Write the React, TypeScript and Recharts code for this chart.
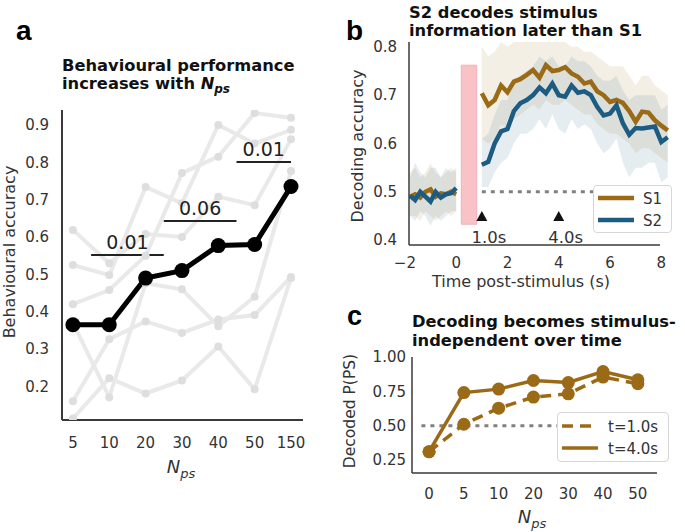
import React from 'react';
import {
  LineChart,
  ComposedChart,
  Line,
  Area,
  XAxis,
  YAxis,
  ReferenceLine,
  ReferenceArea,
  ReferenceDot,
} from 'recharts';

// ---- panel a: behavioural accuracy per N_ps
const npsA = ['5', '10', '20', '30', '40', '50', '150'];
const meanAcc = [0.365, 0.365, 0.49, 0.51, 0.577, 0.58, 0.735];
const subj1 = [0.37, 0.171, 0.476, 0.46, 0.361, 0.44, 0.777];
const subj2 = [0.16, 0.326, 0.374, 0.343, 0.379, 0.391, 0.493];
const subj3 = [0.114, 0.222, 0.181, 0.216, 0.307, 0.192, 0.49];
const subj4 = [0.619, 0.53, 0.608, 0.6, 0.708, 0.685, 0.862];
const subj5 = [0.525, 0.498, 0.734, 0.69, 0.9, 0.85, 0.887];
const subj6 = [0.42, 0.458, 0.55, 0.771, 0.815, 0.932, 0.919];
const sigP = ['0.01', '0.06', '0.01'];
const sigFrom = [0.5, 2.5, 4.5];
const sigTo = [2.5, 4.5, 6];
const sigAt = [0.552, 0.643, 0.801];

// ---- panel b: decoding accuracy over time
const timePre = [-1.8, -1.6, -1.4, -1.2, -1.0, -0.8, -0.6, -0.4, -0.2, 0];
const s1Pre = [0.49, 0.495, 0.488, 0.5, 0.505, 0.49, 0.497, 0.495, 0.5, 0.495];
const s2Pre = [0.492, 0.483, 0.5, 0.49, 0.48, 0.5, 0.488, 0.495, 0.497, 0.508];
const s1PreLo = [0.45, 0.45, 0.44, 0.46, 0.45, 0.44, 0.45, 0.46, 0.45, 0.46];
const s1PreHi = [0.54, 0.55, 0.53, 0.54, 0.56, 0.54, 0.53, 0.54, 0.55, 0.54];
const s2PreLo = [0.45, 0.44, 0.46, 0.45, 0.43, 0.45, 0.44, 0.45, 0.46, 0.46];
const s2PreHi = [0.53, 0.56, 0.54, 0.53, 0.55, 0.55, 0.53, 0.55, 0.54, 0.55];

const timePost = [1, 1.25, 1.5, 1.75, 2, 2.25, 2.5, 2.75, 3, 3.25, 3.5, 3.75, 4, 4.25, 4.5,
  4.75, 5, 5.25, 5.5, 5.75, 6, 6.25, 6.5, 6.75, 7, 7.25, 7.5, 7.75, 8, 8.25];
const s1Post = [0.704, 0.679, 0.69, 0.72, 0.706, 0.728, 0.733, 0.742, 0.752, 0.736, 0.762, 0.75,
  0.752, 0.758, 0.745, 0.738, 0.724, 0.728, 0.708, 0.7, 0.686, 0.69, 0.684, 0.667, 0.645, 0.666,
  0.664, 0.648, 0.637, 0.627];
const s2Post = [0.556, 0.562, 0.6, 0.625, 0.63, 0.667, 0.683, 0.69, 0.7, 0.716, 0.704, 0.724,
  0.7, 0.697, 0.72, 0.705, 0.708, 0.7, 0.676, 0.658, 0.662, 0.679, 0.642, 0.618, 0.632, 0.631,
  0.633, 0.635, 0.603, 0.613];
const s1PostLo = [0.61, 0.6, 0.61, 0.64, 0.63, 0.65, 0.66, 0.67, 0.68, 0.67, 0.69, 0.68, 0.68,
  0.69, 0.68, 0.67, 0.66, 0.66, 0.64, 0.63, 0.62, 0.62, 0.61, 0.6, 0.58, 0.59, 0.59, 0.58, 0.57, 0.56];
const s1PostHi = [0.8, 0.78, 0.79, 0.81, 0.8, 0.81, 0.81, 0.81, 0.81, 0.81, 0.81, 0.81, 0.81,
  0.81, 0.8, 0.8, 0.79, 0.79, 0.78, 0.77, 0.76, 0.76, 0.76, 0.74, 0.72, 0.74, 0.74, 0.72, 0.71, 0.7];
const s2PostLo = [0.51, 0.51, 0.54, 0.56, 0.57, 0.6, 0.62, 0.62, 0.63, 0.65, 0.63, 0.66, 0.63,
  0.62, 0.65, 0.63, 0.64, 0.63, 0.6, 0.58, 0.59, 0.61, 0.56, 0.53, 0.55, 0.55, 0.56, 0.56, 0.52, 0.53];
const s2PostHi = [0.61, 0.62, 0.66, 0.69, 0.69, 0.73, 0.74, 0.75, 0.76, 0.78, 0.77, 0.78, 0.76,
  0.76, 0.78, 0.77, 0.77, 0.76, 0.74, 0.73, 0.73, 0.74, 0.71, 0.69, 0.7, 0.7, 0.7, 0.7, 0.67, 0.68];
const cueTimes = [1.0, 4.0];
const cueLabels = ['1.0s', '4.0s'];

// ---- panel c: decoded P(PS)
const npsC = ['0', '5', '10', '20', '30', '40', '50'];
const pEarly = [0.31, 0.51, 0.627, 0.708, 0.732, 0.854, 0.805];
const pLate = [0.31, 0.741, 0.766, 0.829, 0.814, 0.894, 0.834];

const FONT = '"DejaVu Sans", Verdana, sans-serif';
const LETTER_FONT = '"Liberation Sans", Arial, sans-serif';
const AX = '#3a3a3a';
const S1 = '#9a6a16';
const S2 = '#1c5c82';
const tickStyle = { fontSize: 15, fill: '#333', fontFamily: FONT };

const rowsA = npsA.map((_, i) => ({
  i,
  mean: meanAcc[i],
  g1: subj1[i],
  g2: subj2[i],
  g3: subj3[i],
  g4: subj4[i],
  g5: subj5[i],
  g6: subj6[i],
}));
const grayKeys = ['g1', 'g2', 'g3', 'g4', 'g5', 'g6'];

const rowsB = [
  ...timePre.map((t, i) => ({
    t,
    s1: s1Pre[i],
    s2: s2Pre[i],
    b1: [s1PreLo[i], s1PreHi[i]],
    b2: [s2PreLo[i], s2PreHi[i]],
  })),
  { t: 0.5, s1: null, s2: null, b1: null, b2: null },
  ...timePost.map((t, i) => ({
    t,
    s1: s1Post[i],
    s2: s2Post[i],
    b1: [s1PostLo[i], s1PostHi[i]],
    b2: [s2PostLo[i], s2PostHi[i]],
  })),
];

const rowsC = npsC.map((_, i) => ({ i, early: pEarly[i], late: pLate[i] }));

const Cue = (props: any) => {
  const { cx, cy, label } = props;
  return (
    <g>
      <polygon points={`${cx - 5.5},${cy + 5} ${cx + 5.5},${cy + 5} ${cx},${cy - 5}`} fill="#111" />
      <text x={cx + 7} y={cy + 27} textAnchor="middle" fontSize={16.5} fill="#333" fontFamily={FONT}>
        {label}
      </text>
    </g>
  );
};

function PanelA() {
  return (
    <div style={{ position: 'absolute', left: 0, top: 0 }}>
      <LineChart width={330} height={480} data={rowsA} margin={{ top: 110, right: 27, bottom: 30, left: 22 }}>
        <XAxis
          type="number"
          dataKey="i"
          domain={[-0.3, 6.33]}
          ticks={[0, 1, 2, 3, 4, 5, 6]}
          tickFormatter={(v) => npsA[v]}
          allowDataOverflow
          interval={0}
          height={30}
          axisLine={{ stroke: AX, strokeWidth: 2 }}
          tickLine={false}
          tickSize={0}
          tickMargin={17}
          tick={tickStyle}
        />
        <YAxis
          type="number"
          domain={[0.11, 0.94]}
          ticks={[0.2, 0.3, 0.4, 0.5, 0.6, 0.7, 0.8, 0.9]}
          tickFormatter={(v) => v.toFixed(1)}
          allowDataOverflow
          interval={0}
          width={40}
          axisLine={{ stroke: AX, strokeWidth: 2 }}
          tickLine={false}
          tickSize={0}
          tickMargin={13}
          tick={tickStyle}
        />
        {grayKeys.map((k) => (
          <Line
            key={k}
            dataKey={k}
            stroke="#e9e9e9"
            strokeWidth={4}
            dot={{ r: 4, fill: '#dedede', stroke: 'none' }}
            isAnimationActive={false}
          />
        ))}
        {sigP.map((p, j) => (
          <ReferenceLine
            key={j}
            segment={[
              { x: sigFrom[j], y: sigAt[j] },
              { x: sigTo[j], y: sigAt[j] },
            ]}
            stroke="#222"
            strokeWidth={2}
            label={{ value: p, position: 'top', offset: 6, fontSize: 19, fill: '#222', fontFamily: FONT }}
          />
        ))}
        <Line
          dataKey="mean"
          stroke="#000"
          strokeWidth={5}
          dot={{ r: 7.5, fill: '#000', stroke: 'none' }}
          isAnimationActive={false}
        />
      </LineChart>
    </div>
  );
}

function PanelB() {
  return (
    <div style={{ position: 'absolute', left: 330, top: 0 }}>
      <ComposedChart width={355} height={300} data={rowsB} margin={{ top: 42, right: 16, bottom: 25, left: 34 }}>
        <XAxis
          type="number"
          dataKey="t"
          domain={[-1.84, 8.3]}
          ticks={[-2, 0, 2, 4, 6, 8]}
          tickFormatter={(v) => (v < 0 ? '\u2212' + Math.abs(v) : String(v))}
          allowDataOverflow
          interval={0}
          height={30}
          axisLine={false}
          tickLine={false}
          tickSize={0}
          tickMargin={12}
          tick={tickStyle}
        />
        <YAxis
          type="number"
          domain={[0.39, 0.81]}
          ticks={[0.4, 0.5, 0.6, 0.7, 0.8]}
          tickFormatter={(v) => v.toFixed(1)}
          allowDataOverflow
          interval={0}
          width={45}
          axisLine={{ stroke: AX, strokeWidth: 1.5 }}
          tickLine={false}
          tickSize={0}
          tickMargin={12}
          tick={tickStyle}
        />
        <ReferenceLine
          segment={[
            { x: -1.84, y: 0.39 },
            { x: 7.95, y: 0.39 },
          ]}
          stroke={AX}
          strokeWidth={1.5}
          ifOverflow="visible"
        />
        <Area dataKey="b1" stroke="none" fill={S1} fillOpacity={0.11} isAnimationActive={false} />
        <Area dataKey="b2" stroke="none" fill={S2} fillOpacity={0.11} isAnimationActive={false} />
        <ReferenceArea x1={0.2} x2={0.8} y1={0.433} y2={0.762} fill="#f8c2c6" fillOpacity={1} stroke="#efb0b6" />
        <ReferenceLine
          segment={[
            { x: 1.0, y: 0.5 },
            { x: 8.3, y: 0.5 },
          ]}
          stroke="#808080"
          strokeWidth={3}
          strokeDasharray="4 5"
        />
        <Line dataKey="s1" stroke={S1} strokeWidth={4.5} dot={false} isAnimationActive={false} />
        <Line dataKey="s2" stroke={S2} strokeWidth={4.5} dot={false} isAnimationActive={false} />
        {cueTimes.map((t, j) => (
          <ReferenceDot key={j} x={t} y={0.45} r={0} shape={(p: any) => <Cue {...p} label={cueLabels[j]} />} />
        ))}
      </ComposedChart>
    </div>
  );
}

function PanelC() {
  return (
    <div style={{ position: 'absolute', left: 330, top: 300 }}>
      <LineChart width={355} height={232} data={rowsC} margin={{ top: 57, right: 28, bottom: 29, left: 37 }}>
        <XAxis
          type="number"
          dataKey="i"
          domain={[-0.49, 6.55]}
          ticks={[0, 1, 2, 3, 4, 5, 6]}
          tickFormatter={(v) => npsC[v]}
          allowDataOverflow
          interval={0}
          height={30}
          axisLine={{ stroke: AX, strokeWidth: 1.5 }}
          tickLine={false}
          tickSize={0}
          tickMargin={15}
          tick={tickStyle}
        />
        <YAxis
          type="number"
          domain={[0.155, 1.0]}
          ticks={[0.25, 0.5, 0.75, 1.0]}
          tickFormatter={(v) => v.toFixed(2)}
          allowDataOverflow
          interval={0}
          width={45}
          axisLine={{ stroke: AX, strokeWidth: 1.5 }}
          tickLine={false}
          tickSize={0}
          tickMargin={6}
          tick={tickStyle}
        />
        <ReferenceLine
          segment={[
            { x: -0.22, y: 0.5 },
            { x: 6.55, y: 0.5 },
          ]}
          stroke="#808080"
          strokeWidth={3}
          strokeDasharray="4 5"
        />
        <Line
          dataKey="early"
          stroke={S1}
          strokeWidth={3.5}
          strokeDasharray="11 7"
          dot={{ r: 6.5, fill: S1, stroke: 'none' }}
          isAnimationActive={false}
        />
        <Line
          dataKey="late"
          stroke={S1}
          strokeWidth={3.5}
          dot={{ r: 6.5, fill: S1, stroke: 'none' }}
          isAnimationActive={false}
        />
      </LineChart>
    </div>
  );
}

const legendBox: React.CSSProperties = {
  position: 'absolute',
  background: '#fff',
  border: '1px solid #d6d6d6',
  borderRadius: 4,
  boxSizing: 'border-box',
};

export default function App() {
  return (
    <div
      style={{
        position: 'absolute',
        left: 0,
        top: 0,
        width: 685,
        height: 532,
        background: '#fff',
        fontFamily: FONT,
        overflow: 'hidden',
      }}
    >
      <PanelA />
      <PanelB />
      <PanelC />

      {/* legend b */}
      <div style={{ ...legendBox, left: 593, top: 185, width: 79, height: 48 }}>
        <svg width={77} height={46} style={{ display: 'block' }}>
          <line x1={4} x2={40} y1={12} y2={12} stroke={S1} strokeWidth={4.5} />
          <line x1={4} x2={40} y1={34} y2={34} stroke={S2} strokeWidth={4.5} />
          <text x={49} y={17.5} fontSize={15} fill="#333" fontFamily={FONT}>S1</text>
          <text x={49} y={39.5} fontSize={15} fill="#333" fontFamily={FONT}>S2</text>
        </svg>
      </div>

      {/* legend c */}
      <div style={{ ...legendBox, left: 557, top: 412, width: 112, height: 50 }}>
        <svg width={110} height={48} style={{ display: 'block' }}>
          <line x1={4} x2={40} y1={13} y2={13} stroke={S1} strokeWidth={3.5} strokeDasharray="11 7" />
          <line x1={4} x2={40} y1={35} y2={35} stroke={S1} strokeWidth={3.5} />
          <text x={50} y={18.5} fontSize={15} fill="#333" fontFamily={FONT}>t=1.0s</text>
          <text x={50} y={40.5} fontSize={15} fill="#333" fontFamily={FONT}>t=4.0s</text>
        </svg>
      </div>

      <svg
        width={685}
        height={532}
        style={{ position: 'absolute', left: 0, top: 0, pointerEvents: 'none' }}
        fontFamily={FONT}
      >
        <text x={16} y={40} fontFamily={LETTER_FONT} fontWeight="bold" fontSize={28} fill="#000">a</text>
        <text x={346} y={40} fontFamily={LETTER_FONT} fontWeight="bold" fontSize={28} fill="#000">b</text>
        <text x={347} y={325} fontFamily={LETTER_FONT} fontWeight="bold" fontSize={27} fill="#000">c</text>

        <text x={62} y={71} fontWeight="bold" fontSize={16.3} fill="#111">Behavioural performance</text>
        <text x={62} y={89} fontWeight="bold" fontSize={16.3} fill="#111">
          increases with <tspan fontStyle="italic">N</tspan>
          <tspan fontStyle="italic" fontSize={12} dy={4}>ps</tspan>
        </text>

        <text x={409} y={18} fontWeight="bold" fontSize={16.3} fill="#111">S2 decodes stimulus</text>
        <text x={409} y={35.5} fontWeight="bold" fontSize={16.3} fill="#111">information later than S1</text>

        <text x={412} y={327} fontWeight="bold" fontSize={16.3} fill="#111">Decoding becomes stimulus-</text>
        <text x={412} y={345.5} fontWeight="bold" fontSize={16.3} fill="#111">independent over time</text>

        <text x={15} y={252} transform="rotate(-90 15 252)" textAnchor="middle" fontSize={16} fill="#333">
          Behavioural accuracy
        </text>
        <text x={181} y={473} textAnchor="middle" fontSize={18} fill="#333">
          <tspan fontStyle="italic">N</tspan>
          <tspan fontStyle="italic" fontSize={13} dy={5}>ps</tspan>
        </text>

        <text x={363} y={146} transform="rotate(-90 363 146)" textAnchor="middle" fontSize={16} fill="#333">
          Decoding accuracy
        </text>
        <text x={521} y={287} textAnchor="middle" fontSize={16} fill="#333">Time post-stimulus (s)</text>

        <text x={355} y={411} transform="rotate(-90 355 411)" textAnchor="middle" fontSize={15.5} fill="#333">
          Decoded P(PS)
        </text>
        <text x={532} y={523} textAnchor="middle" fontSize={18} fill="#333">
          <tspan fontStyle="italic">N</tspan>
          <tspan fontStyle="italic" fontSize={13} dy={5}>ps</tspan>
        </text>
      </svg>
    </div>
  );
}
